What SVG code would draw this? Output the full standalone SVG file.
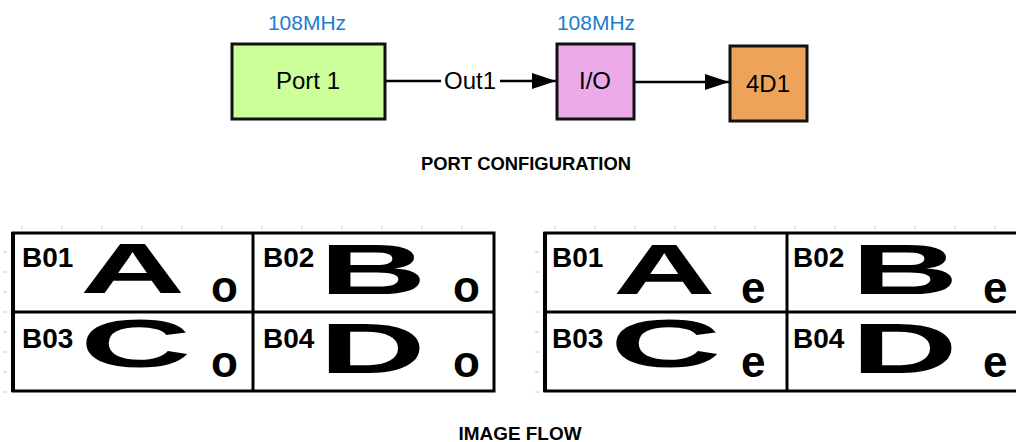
<svg xmlns="http://www.w3.org/2000/svg" width="1016" height="442" viewBox="0 0 1016 442">
<style>
.box{stroke:#111;stroke-width:3}
.freq{font-family:"Liberation Sans",Arial,sans-serif;font-size:21px;fill:#1c7dcc;text-anchor:middle}
.lbl{font-family:"Liberation Sans",Arial,sans-serif;font-size:24px;text-anchor:middle}
.title{font-family:"Liberation Sans",Arial,sans-serif;font-weight:bold;font-size:19px;text-anchor:middle}
.cell{font-family:"Liberation Sans",Arial,sans-serif;font-weight:bold;font-size:28px}
.big{font-family:"Liberation Sans",Arial,sans-serif;font-weight:bold;font-size:71px}
.sm{font-family:"Liberation Sans",Arial,sans-serif;font-weight:bold;font-size:44px}
.grid{fill:#fff;stroke:#000;stroke-width:3}
.tick{stroke:#c8c8c8;stroke-width:1}
.conn{stroke:#000;stroke-width:2.5;fill:none}
</style>
<defs>
<marker id="arr" markerUnits="userSpaceOnUse" markerWidth="24" markerHeight="16" refX="24" refY="8" orient="auto">
<path d="M0,0 L24,8 L0,16 Z" fill="#000"/>
</marker>
</defs>
<rect width="1016" height="442" fill="#fff"/>

<g id="connectors">
<path class="conn" d="M385,81 H441"/>
<path class="conn" d="M500,81 H556" marker-end="url(#arr)"/>
<text class="lbl" x="470" y="89">Out1</text>
<path class="conn" d="M634,82 H729" marker-end="url(#arr)"/>
</g>

<g id="port1">
<text class="freq" x="307" y="30">108MHz</text>
<rect class="box" x="232" y="44" width="153" height="75" fill="#ccff99"/>
<text class="lbl" x="308" y="89">Port 1</text>
</g>
<g id="io">
<text class="freq" x="596" y="30">108MHz</text>
<rect class="box" x="557" y="44" width="77" height="75" fill="#ecaaea"/>
<text class="lbl" x="595" y="89">I/O</text>
</g>
<g id="d41">
<rect class="box" x="730" y="46" width="77" height="75" fill="#eda45a"/>
<text class="lbl" x="768" y="92">4D1</text>
</g>

<g id="port-config-title">
<text class="title" x="526" y="170" textLength="210" lengthAdjust="spacingAndGlyphs">PORT CONFIGURATION</text>
</g>

<g id="ticks">
<path class="tick" d="M22,226v3 M62,226v3 M102,226v3 M142,226v3 M182,226v3 M222,226v3 M262,226v3 M302,226v3 M342,226v3 M382,226v3 M422,226v3 M462,226v3
M3,252h4 M3,272h4 M3,292h4 M3,312h4 M3,332h4 M3,352h4 M3,372h4 M3,392h4
M555,226v3 M595,226v3 M635,226v3 M675,226v3 M715,226v3 M755,226v3 M795,226v3 M835,226v3 M875,226v3 M915,226v3 M955,226v3 M995,226v3
M535,252h4 M535,272h4 M535,292h4 M535,312h4 M535,332h4 M535,352h4 M535,372h4 M535,392h4"/>
</g>

<g id="grid-odd">
<rect class="grid" x="13" y="233" width="481" height="158"/>
<path d="M253,233V391 M13,312H494" stroke="#000" stroke-width="3"/>
<path d="M13,232V392" stroke="#000" stroke-width="4"/>
<text class="cell" x="22" y="267">B01</text>
<text class="cell" x="263" y="267">B02</text>
<text class="cell" x="22" y="348">B03</text>
<text class="cell" x="263" y="348">B04</text>
<text class="big" transform="translate(80,293) scale(2.05,1)">A</text>
<text class="big" transform="translate(319,294) scale(2.1,1)">B</text>
<text class="big" style="font-size:68px" transform="translate(80,367) scale(2.27,1)">C</text>
<text class="big" transform="translate(319,373) scale(2.08,1)">D</text>
<text class="sm" x="211" y="302">o</text>
<text class="sm" x="453" y="302">o</text>
<text class="sm" x="211" y="377">o</text>
<text class="sm" x="453" y="377">o</text>
</g>

<g id="grid-even">
<rect class="grid" x="545" y="233" width="490" height="158"/>
<path d="M787,233V391 M545,312H1030" stroke="#000" stroke-width="3"/>
<path d="M545,232V392" stroke="#000" stroke-width="4"/>
<text class="cell" x="552" y="267">B01</text>
<text class="cell" x="793" y="267">B02</text>
<text class="cell" x="552" y="348">B03</text>
<text class="cell" x="793" y="348">B04</text>
<text class="big" transform="translate(613,294) scale(2.0,1)">A</text>
<text class="big" transform="translate(851,294) scale(2.1,1)">B</text>
<text class="big" style="font-size:68px" transform="translate(610,367) scale(2.27,1)">C</text>
<text class="big" transform="translate(851,373) scale(2.08,1)">D</text>
<text class="sm" x="741" y="303">e</text>
<text class="sm" x="983" y="303">e</text>
<text class="sm" x="741" y="377">e</text>
<text class="sm" x="983" y="377">e</text>
</g>

<g id="image-flow-title">
<text class="title" x="520" y="440" textLength="123" lengthAdjust="spacingAndGlyphs">IMAGE FLOW</text>
</g>
</svg>
